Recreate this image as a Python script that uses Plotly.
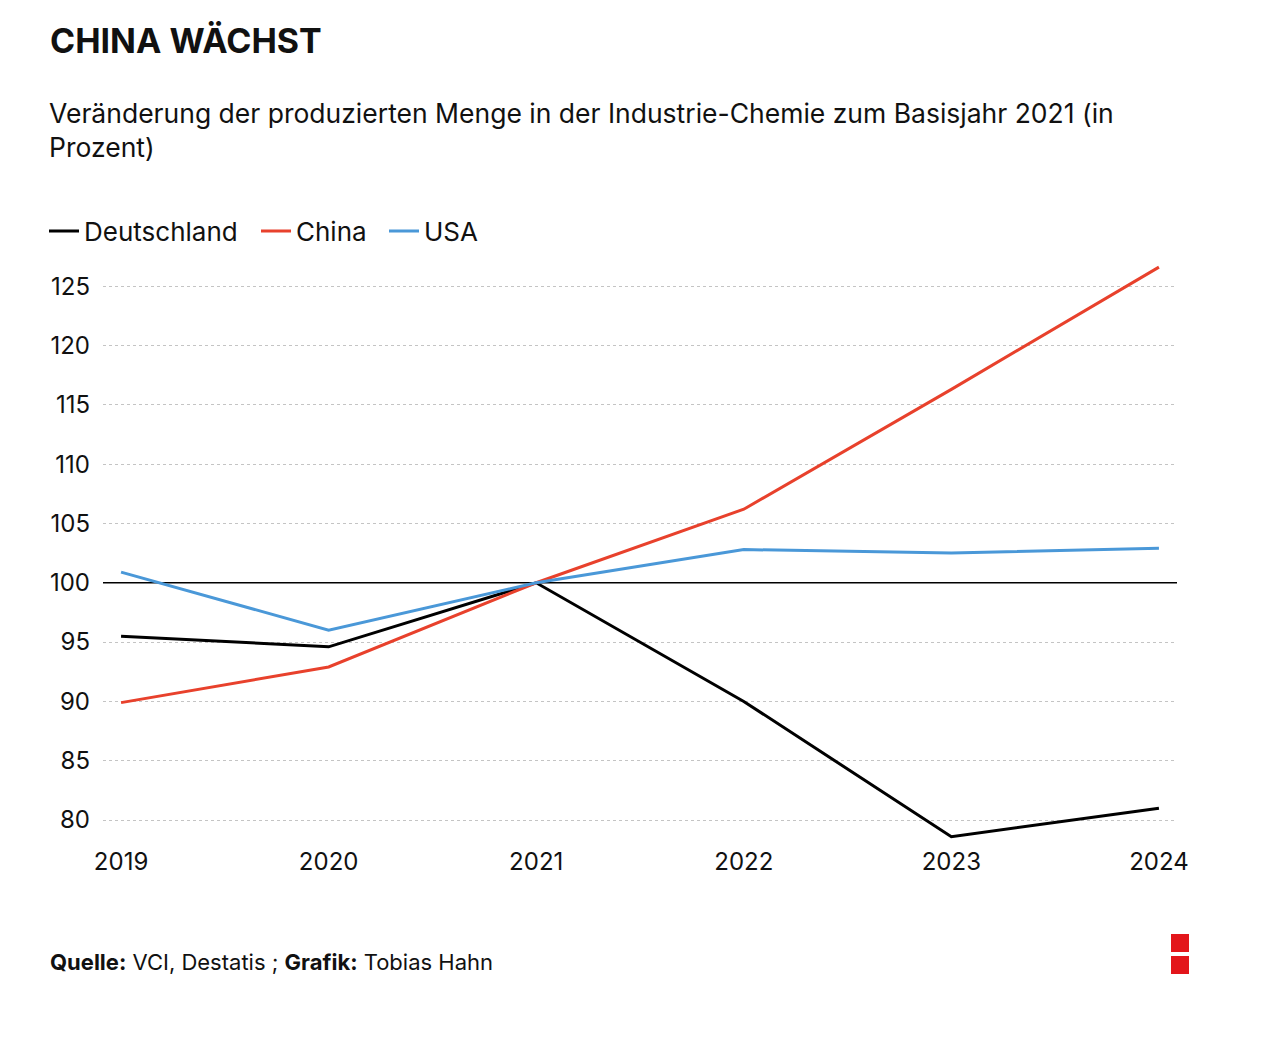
import plotly.graph_objects as go

years = [2019, 2020, 2021, 2022, 2023, 2024]
deutschland = [95.5, 94.6, 100.0, 90.0, 78.6, 81.0]
china = [89.9, 92.9, 100.0, 106.2, 116.3, 126.6]
usa = [100.9, 96.0, 100.0, 102.8, 102.5, 102.9]
y_ticks = [80, 85, 90, 95, 100, 105, 110, 115, 120, 125]
base = 100

FONT = "Inter"
W, H = 1280, 1047
OFF = 8  # page offset
L, R, T, B = 103 - OFF, 1177 - OFF, 260 - OFF, 845 - OFF

def px(x):
    return (x - OFF - L) / (R - L)

def py(y):
    return (B - (y - OFF)) / (B - T)

series = [("Deutschland", deutschland, "#000000", "legend", 44),
          ("China", china, "#e8412c", "legend2", 256),
          ("USA", usa, "#4a98d8", "legend3", 384)]

fig = go.Figure()
for name, vals, col, lg, _ in series:
    fig.add_trace(go.Scatter(x=years, y=vals, mode="lines", name=name, legend=lg,
                             line=dict(color=col, width=3)))

fig.add_hline(y=base, line=dict(color="#000000", width=1.3), layer="below")

legend_style = dict(orientation="h", xanchor="left", y=py(231), yanchor="middle",
                    font=dict(size=26, color="#111111"), itemwidth=30,
                    bgcolor="rgba(0,0,0,0)")
layout_legends = {}
for _, _, _, lg, lx in series:
    layout_legends[lg] = dict(legend_style, x=px(lx))

fig.update_layout(
    width=W, height=H,
    margin=dict(l=L, r=W - R, t=T, b=H - B),
    paper_bgcolor="white", plot_bgcolor="white",
    font=dict(family=FONT, color="#111111"),
    showlegend=True,
    xaxis=dict(range=[2018.913, 2024.087], tickvals=years, ticktext=[str(y) for y in years],
               showgrid=False, zeroline=False, showline=False, ticks="",
               tickfont=dict(size=24, color="#111111", family=FONT)),
    yaxis=dict(range=[77.9, 127.2], tickvals=y_ticks, showgrid=False,
               zeroline=False, showline=False, ticks="", ticklabelstandoff=12,
               tickfont=dict(size=24, color="#111111", family=FONT),
               minor=dict(tickvals=[v for v in y_ticks if v != base], showgrid=True,
                          gridcolor="#c4c4c4", griddash="dot", gridwidth=1, ticks="")),
    **layout_legends,
)

fig.add_annotation(text="<b>CHINA WÄCHST</b>", xref="paper", yref="paper",
                   x=px(48), y=py(40), xanchor="left", yanchor="middle", showarrow=False,
                   font=dict(size=34, family=FONT, color="#111111"))
fig.add_annotation(text="Veränderung der produzierten Menge in der Industrie-Chemie zum Basisjahr 2021 (in<br>Prozent)",
                   xref="paper", yref="paper", x=px(47), y=py(95), xanchor="left", yanchor="top",
                   align="left", showarrow=False,
                   font=dict(size=26.5, family=FONT, color="#111111"))
fig.add_annotation(text="<b>Quelle:</b> VCI, Destatis ; <b>Grafik:</b> Tobias Hahn",
                   xref="paper", yref="paper", x=px(48), y=py(962), xanchor="left", yanchor="middle",
                   showarrow=False, font=dict(size=22, family=FONT, color="#111111"))

for y0, y1 in [(934, 952), (956, 974)]:
    fig.add_shape(type="rect", xref="paper", yref="paper",
                  x0=px(1171), x1=px(1189), y0=py(y1), y1=py(y0),
                  fillcolor="#e3161b", line=dict(width=0))

fig.write_html("out.html")
